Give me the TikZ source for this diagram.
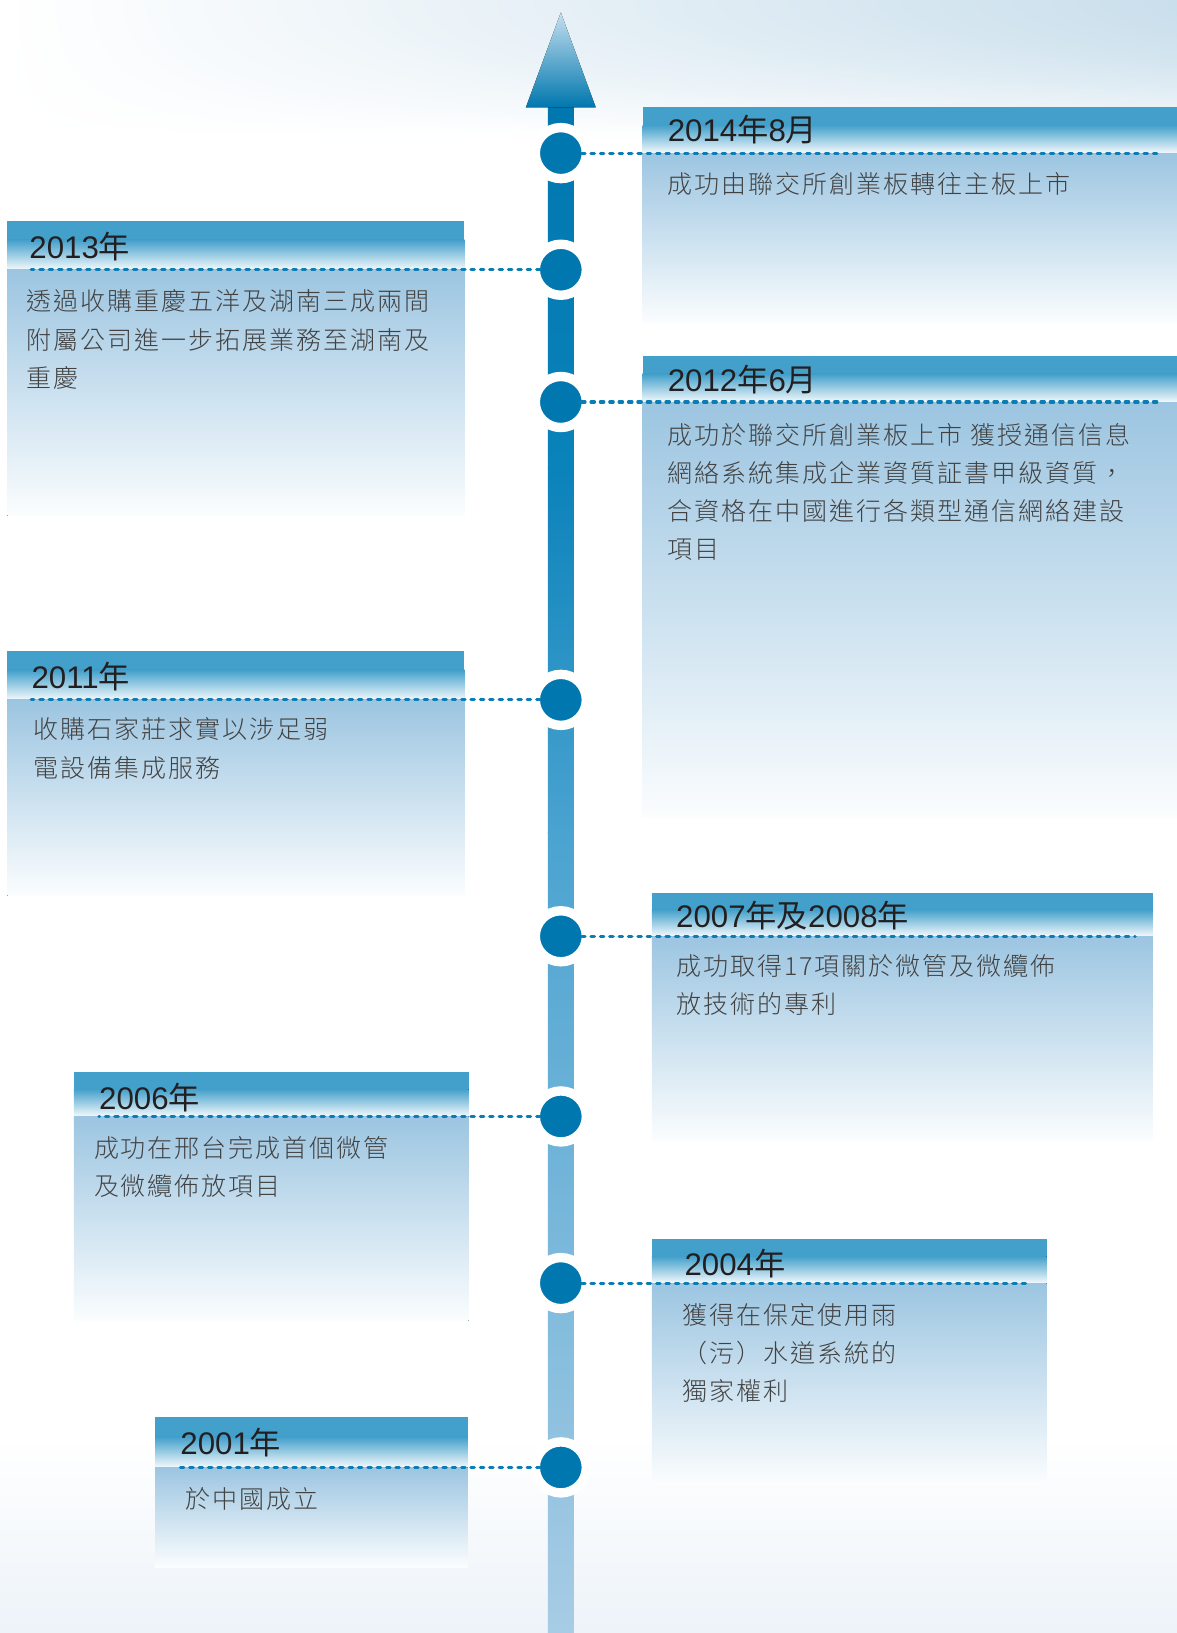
\documentclass[tikz,border=0pt]{standalone}
\usepackage{fontspec}
\setmainfont{Liberation Sans}
\newfontfamily\cjk{Noto Sans CJK TC}
\IfFontExistsTF{Noto Sans CJK TC Light}
  {\newfontfamily\cjkbody[LetterSpace=8]{Noto Sans CJK TC Light}}
  {\newfontfamily\cjkbody[LetterSpace=8]{Noto Sans CJK TC}}
\definecolor{hdr}{HTML}{43A0CB}
\definecolor{hdrlow}{HTML}{F4F9FC}
\definecolor{bodyc}{HTML}{9CC5E1}
\definecolor{bodymid}{HTML}{BDD8EA}
\definecolor{bodyend}{HTML}{FBFDFE}
\definecolor{dotc}{HTML}{0A7DB5}
\definecolor{circ}{HTML}{0077AE}
\definecolor{ttlc}{HTML}{231F20}
\definecolor{bodytxt}{HTML}{424242}
\definecolor{sky}{HTML}{CADFEC}
\definecolor{ax1}{HTML}{0077AE}
\definecolor{ax2}{HTML}{0A82BA}
\definecolor{ax3}{HTML}{4AA3D0}
\definecolor{ax4}{HTML}{A8CCE5}
\definecolor{arrt}{HTML}{C5DFEF}
\definecolor{botbg}{HTML}{EDF3F9}
\newcommand\tlbox[5]{%
  \fill[hdr] (#1,#3) rectangle (#2,{#3+0.4*(#4-#3)});
  \fill[top color=hdr, bottom color=hdrlow] (#1,{#3+0.4*(#4-#3)-0.5}) rectangle (#2,#4);
  \fill[top color=bodyc, middle color=bodymid, bottom color=bodyend] (#1,#4) rectangle (#2,#5);
}
\tikzset{
  tdot/.style={circle, fill=circ, draw=white, line width=6.75pt, minimum size=36.75pt, inner sep=0pt, outer sep=-3.4pt},
  dotline/.style={draw=dotc, line width=2.25pt, line cap=round, dash pattern=on 2.5pt off 4.25pt},
  ttl/.style={anchor=base west, inner sep=0pt, font=\fontsize{22.5pt}{27pt}\selectfont, text=ttlc},
  bdy/.style={anchor=north west, inner sep=0pt, align=left, font=\cjkbody\fontsize{18pt}{27.5pt}\selectfont, text=bodytxt}
}
\begin{document}
\begin{tikzpicture}[x=0.75pt,y=-0.75pt]
\useasboundingbox (0,0) rectangle (1130,1568);
% background
\fill[white] (0,0) rectangle (1130,1568);
\foreach \i in {0,...,54}{
  \pgfmathsetmacro\k{100*(1-(\i/55)^2)}
  \pgfmathsetmacro\m{0.35*\k}
  \fill[left color=white, middle color=sky!\m!white, right color=sky!\k!white] (0,{\i*2.4}) rectangle (1130,{\i*2.4+2.9});
}
\fill[top color=white, bottom color=botbg] (0,1380) rectangle (1130,1568);
% axis
\fill[top color=ax1, bottom color=ax2] (526,100) rectangle (551,450);
\fill[top color=ax2, bottom color=ax3] (526,449.5) rectangle (551,800);
\fill[top color=ax3, bottom color=ax4] (526,799.5) rectangle (551,1568);
\fill[top color=arrt, bottom color=ax1] (505,103) -- (538.5,12) -- (572,103) -- cycle;
% boxes
\tlbox{617}{1130}{103}{147}{310}
\tlbox{7}{446}{212}{259}{495}
\tlbox{617}{1130}{342}{386}{785}
\tlbox{7}{446}{625}{672}{860}
\tlbox{626}{1107}{857}{899}{1095}
\tlbox{71}{450}{1029}{1072}{1268}
\tlbox{626}{1005}{1190}{1232}{1425}
\tlbox{149}{449}{1361}{1409}{1505}
% circles
\node[tdot] (c14) at (538.5,147) {};
\node[tdot] (c13) at (538.5,259) {};
\node[tdot] (c12) at (538.5,386) {};
\node[tdot] (c11) at (538.5,672) {};
\node[tdot] (c07) at (538.5,899) {};
\node[tdot] (c06) at (538.5,1072) {};
\node[tdot] (c04) at (538.5,1232) {};
\node[tdot] (c01) at (538.5,1409) {};
% dotted connectors
\coordinate (e14) at (1115,147);
\coordinate (e13) at (30,259);
\coordinate (e12) at (1115,386);
\coordinate (e11) at (30,672);
\coordinate (e07) at (1090,899);
\coordinate (e06) at (95,1072);
\coordinate (e04) at (990,1232);
\coordinate (e01) at (172,1409);
\draw[dotline] (c14.east) -- (e14);
\draw[dotline] (c13.west) -- (e13);
\draw[dotline] (c12.east) -- (e12);
\draw[dotline] (c11.west) -- (e11);
\draw[dotline] (c07.east) -- (e07);
\draw[dotline] (c06.west) -- (e06);
\draw[dotline] (c04.east) -- (e04);
\draw[dotline] (c01.west) -- (e01);
% titles
\node[ttl] (t14) at (641,135.5) {2014{\cjk 年}8{\cjk 月}};
\node[ttl] (t13) at (28,248.5) {2013{\cjk 年}};
\node[ttl] (t12) at (641,375.5) {2012{\cjk 年}6{\cjk 月}};
\node[ttl] (t11) at (30,661) {2011{\cjk 年}};
\node[ttl] (t07) at (649,891) {2007{\cjk 年及}2008{\cjk 年}};
\node[ttl] (t06) at (95,1065.5) {2006{\cjk 年}};
\node[ttl] (t04) at (657,1224.5) {2004{\cjk 年}};
\node[ttl] (t01) at (173,1396.5) {2001{\cjk 年}};
% bodies
\node[bdy] (d14) at (641,165) {成功由聯交所創業板轉往主板上市};
\node[bdy] (d13) at (25,278) {透過收購重慶五洋及湖南三成兩間\\附屬公司進一步拓展業務至湖南及\\重慶};
\node[bdy] (d12) at (641,406) {成功於聯交所創業板上市 獲授通信信息\\網絡系統集成企業資質証書甲級資質，\\合資格在中國進行各類型通信網絡建設\\項目};
\node[bdy] (d11) at (32,689) {收購石家莊求實以涉足弱\\電設備集成服務};
\node[bdy] (d07) at (649,916) {成功取得17項關於微管及微纜佈\\放技術的專利};
\node[bdy] (d06) at (90,1091) {成功在邢台完成首個微管\\及微纜佈放項目};
\node[bdy] (d04) at (655,1251) {獲得在保定使用雨\\（污）水道系統的\\獨家權利};
\node[bdy] (d01) at (178,1428) {於中國成立};
\end{tikzpicture}
\end{document}
